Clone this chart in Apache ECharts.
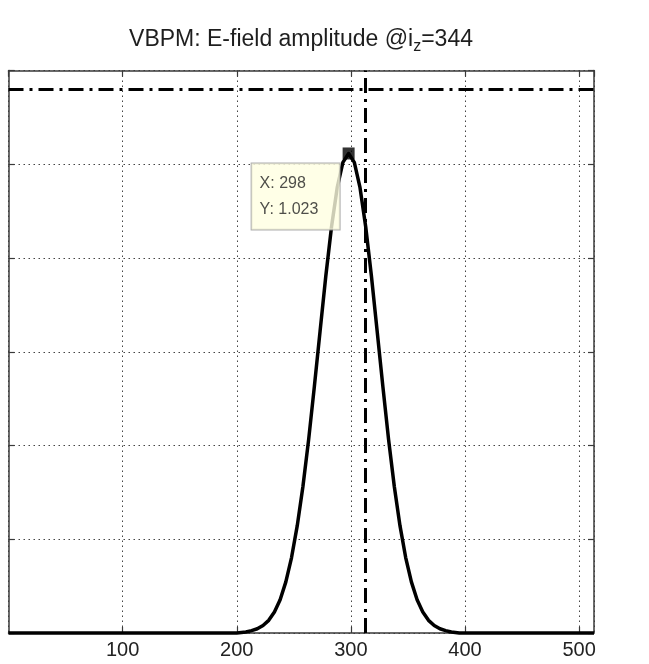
<!DOCTYPE html>
<html>
<head>
<meta charset="utf-8">
<script src="https://cdn.jsdelivr.net/npm/echarts@6/dist/echarts.min.js"></script>
<style>
html,body{margin:0;padding:0;background:#fff;}
#chart{width:649px;height:664px;}
</style>
</head>
<body>
<div id="chart"></div>
<script>
// ---- data ----
const titleText = 'VBPM: E-field amplitude @i';
const titleSub = 'z';
const titleTail = '=344';
const xTicks = [100, 200, 300, 400, 500];
const yTicks = [0, 0.2, 0.4, 0.6, 0.8, 1.0, 1.2];
const xMin = 0, xMax = 513;
const yMin = 0, yMax = 1.2;
// sampled amplitude curve (x index, amplitude)
const curveX = [0, 200, 208, 213, 218, 223, 228, 233, 238, 243, 248, 253, 258, 263, 268, 273, 278, 283, 288, 293, 298,
                303, 308, 313, 318, 323, 328, 333, 338, 343, 348, 353, 358, 363, 368, 373, 378, 383, 388, 395, 513];
const curveY = [0, 0, 0.002, 0.005, 0.009, 0.016, 0.027, 0.045, 0.071, 0.109, 0.161, 0.229, 0.313, 0.413, 0.526, 0.644, 0.761, 0.866, 0.950, 1.004, 1.023,
                1.004, 0.950, 0.866, 0.761, 0.644, 0.526, 0.413, 0.313, 0.229, 0.161, 0.109, 0.071, 0.045, 0.027, 0.016, 0.009, 0.005, 0.002, 0, 0];
const tipX = 298, tipY = 1.023;
const refLineX = 313;   // vertical dash-dot line
const refLineY = 1.16;  // horizontal dash-dot line

const chart = echarts.init(document.getElementById('chart'), null, {renderer: 'canvas'});
const fontFam = '"Liberation Sans", Arial, sans-serif';
const boxColor = '#3a3a3a';
const gridDot = {color: '#444', width: 1, type: [1.5, 3.5]};
const dashDot = [15, 6, 3, 6];

const option = {
  backgroundColor: '#fff',
  animation: false,
  title: {
    text: '{m|' + titleText + '}{s|' + titleSub + '}{m|' + titleTail + '}',
    left: 296, top: 20, textAlign: 'center',
    textStyle: {
      fontWeight: 'normal',
      rich: {
        m: {fontFamily: fontFam, fontSize: 23, fontWeight: 'normal', color: '#1e1e1e'},
        s: {fontFamily: fontFam, fontSize: 16, fontWeight: 'normal', color: '#1e1e1e', padding: [14, 0, 0, 0]}
      }
    }
  },
  grid: {left: 8.5, right: 55, top: 70.5, bottom: 31, containLabel: false},
  xAxis: [{
    type: 'value', min: xMin, max: xMax, interval: 100, position: 'bottom',
    axisLine: {show: true, onZero: false, lineStyle: {color: boxColor, width: 1.5}},
    axisTick: {show: true, inside: true, length: 6, lineStyle: {color: boxColor, width: 1.2}},
    axisLabel: {show: true, margin: 7, color: '#222', fontFamily: fontFam, fontSize: 20,
      showMinLabel: false, showMaxLabel: false,
      formatter: v => xTicks.indexOf(v) >= 0 ? String(v) : ''},
    splitLine: {show: true, lineStyle: gridDot}
  }, {
    type: 'value', min: xMin, max: xMax, interval: 100, position: 'top',
    axisLine: {show: true, onZero: false, lineStyle: {color: boxColor, width: 1.5}},
    axisTick: {show: true, inside: true, length: 6, lineStyle: {color: boxColor, width: 1.2}},
    axisLabel: {show: false}, splitLine: {show: false}
  }],
  yAxis: [{
    type: 'value', min: yMin, max: yMax, interval: 0.2, position: 'left',
    axisLine: {show: true, onZero: false, lineStyle: {color: boxColor, width: 1.5}},
    axisTick: {show: true, inside: true, length: 6, lineStyle: {color: boxColor, width: 1.2}},
    axisLabel: {show: false},
    splitLine: {show: true, lineStyle: gridDot}
  }, {
    type: 'value', min: yMin, max: yMax, interval: 0.2, position: 'right',
    axisLine: {show: true, onZero: false, lineStyle: {color: boxColor, width: 1.5}},
    axisTick: {show: true, inside: true, length: 6, lineStyle: {color: boxColor, width: 1.2}},
    axisLabel: {show: false}, splitLine: {show: false}
  }],
  series: [{
    type: 'line',
    xAxisIndex: 0, yAxisIndex: 0,
    data: curveX.map((x, i) => [x, curveY[i]]),
    showSymbol: false, symbol: 'none',
    clip: false,
    lineStyle: {color: '#000', width: 3.5, join: 'round'},
    z: 5,
    markLine: {
      silent: true, symbol: ['none', 'none'],
      label: {show: false},
      lineStyle: {color: '#000', width: 3, type: dashDot},
      data: [{xAxis: refLineX}, {yAxis: refLineY}]
    }
  }, {
    type: 'scatter',
    xAxisIndex: 0, yAxisIndex: 0,
    data: [[tipX, tipY]],
    symbol: 'rect', symbolSize: 12,
    itemStyle: {color: '#000'},
    z: 10,
    label: {
      show: true,
      position: [-91, 16],
      align: 'left', verticalAlign: 'top',
      formatter: () => 'X: ' + tipX + '\nY: ' + tipY.toFixed(3),
      fontFamily: fontFam, fontSize: 16, color: '#222', lineHeight: 26,
      backgroundColor: '#ffffe1', borderColor: '#9a9a9a', borderWidth: 1,
      padding: [7, 10, 7, 8], width: 70
    }
  }]
};
chart.setOption(option);
</script>
</body>
</html>
